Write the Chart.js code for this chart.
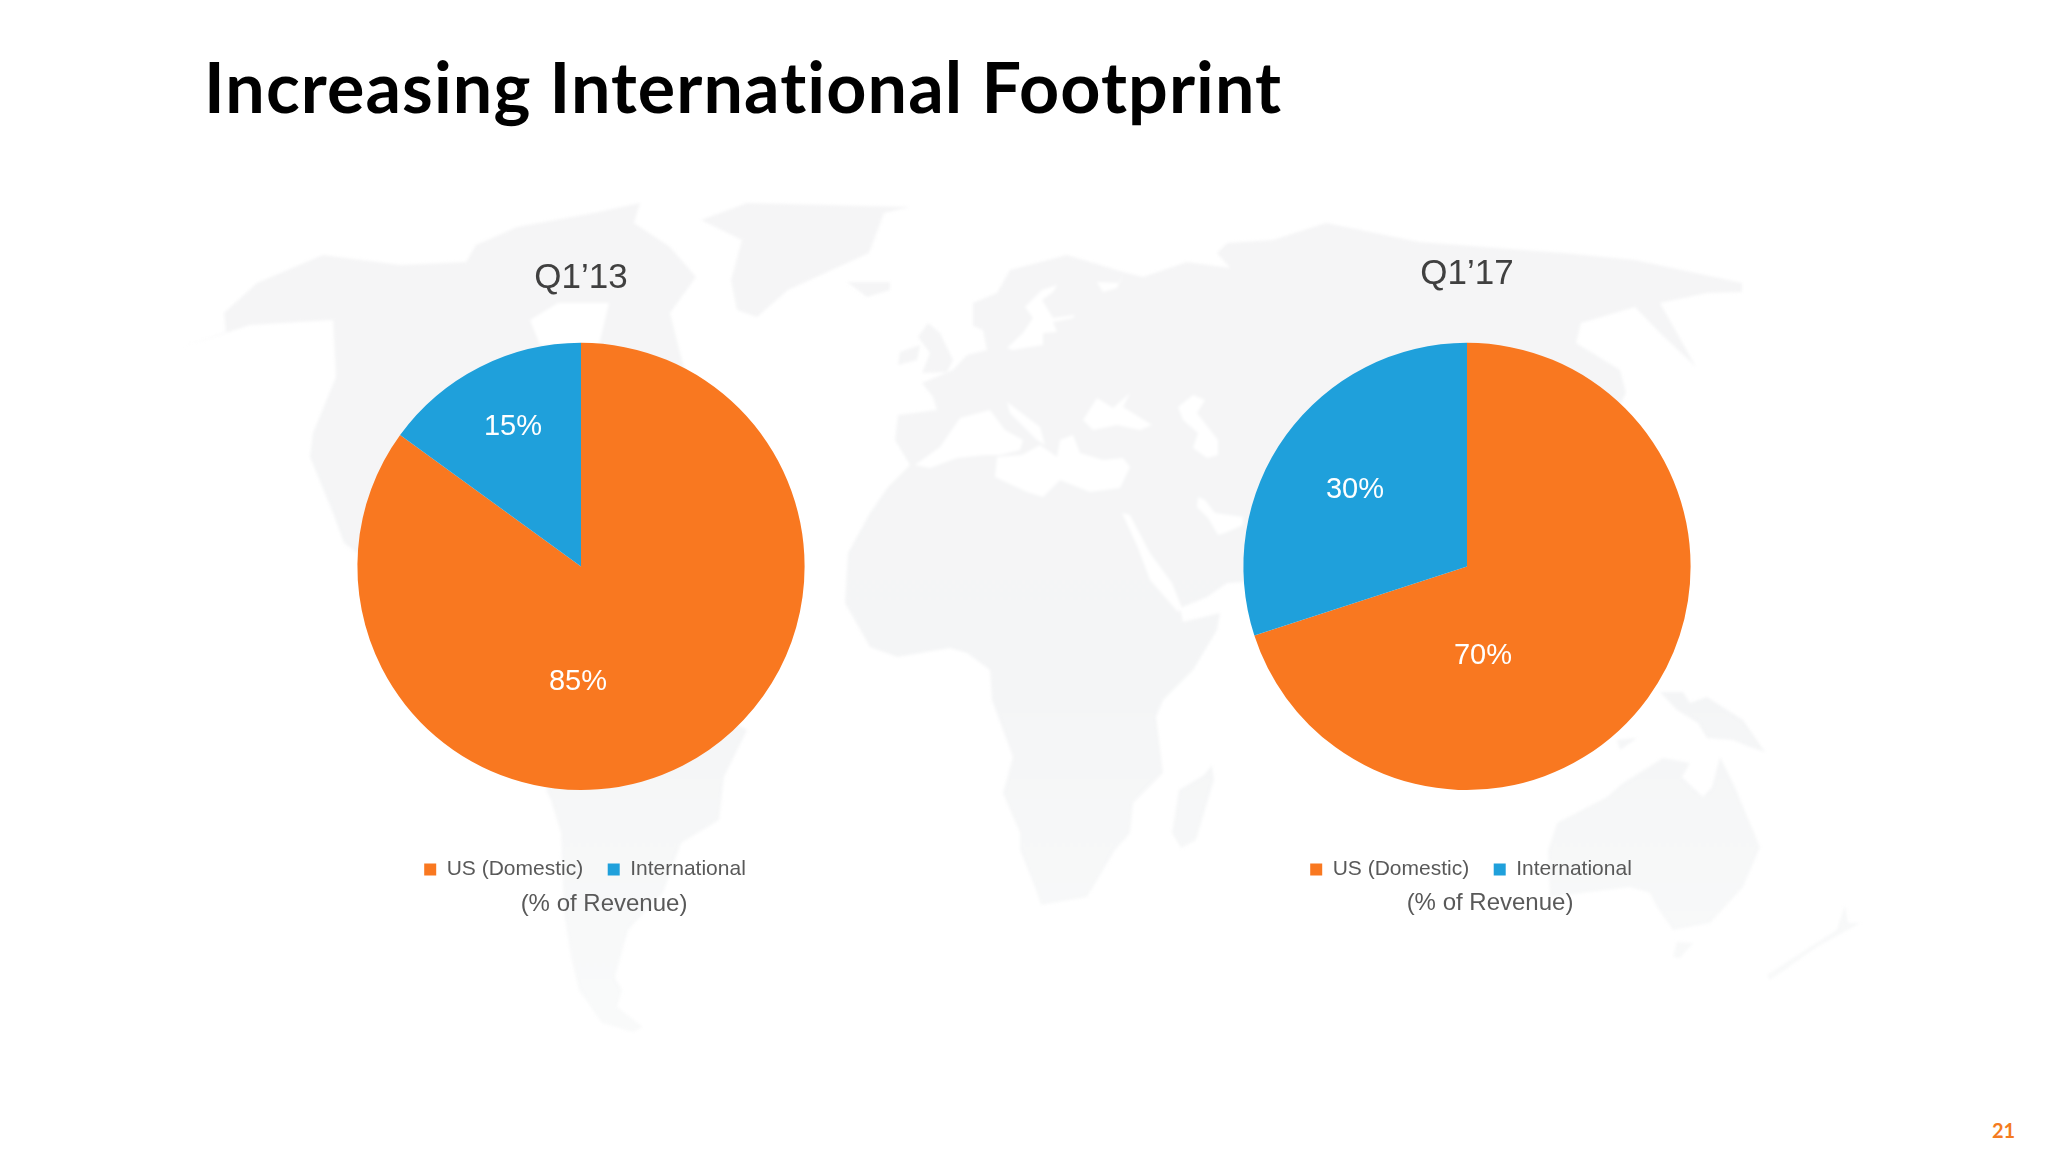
<!DOCTYPE html>
<html>
<head>
<meta charset="utf-8">
<title>Increasing International Footprint</title>
<script src="https://cdn.jsdelivr.net/npm/chart.js@4"></script>
<style>
    html, body { margin: 0; padding: 0; background: #fff; }
    body { position: relative; width: 2048px; height: 1152px; overflow: hidden; }
    #map { position: absolute; left: 0; top: 0; filter: blur(1.5px); }
    #heading { position: absolute; left: 204px; top: 44px; font: 700 70px Lato, sans-serif; letter-spacing: 1.1px; color: #000; white-space: nowrap; }
    #pageNo { position: absolute; left: 1992px; top: 1118px; font: 700 20px Lato, sans-serif; color: #f47b20; }
    canvas { position: absolute; }
    #chartQ113 { left: 231px; top: 200px; }
    #chartQ117 { left: 1117px; top: 200px; }
</style>
</head>
<body>
<!-- faint world map behind the pies -->
<svg id="map" width="2048" height="1152" viewBox="0 0 2048 1152">
    <defs>
        <linearGradient id="land" gradientUnits="userSpaceOnUse" x1="0" y1="200" x2="0" y2="1030">
            <stop offset="0" stop-color="#f5f5f6"/>
            <stop offset="0.6" stop-color="#f4f5f6"/>
            <stop offset="1" stop-color="#f9fafa"/>
        </linearGradient>
    </defs>
    <g fill="url(#land)">
        <!-- North and Central America -->
        <polygon points="180,348 226,332 224,313 257,283 323,255 400,265 466,262 476,245 517,227 594,213 640,203 634,223 670,247 696,277 670,313 680,353 700,420 640,560 620,660 560,700 500,640 420,600 344,543 333,513 310,457 313,433 336,377 333,320 250,325"/>
        <!-- South America -->
        <polygon points="600,650 747,730 724,777 719,820 681,843 663,893 628,930 615,977 622,990 617,1007 643,1027 633,1032 602,1023 579,990 571,957 564,913 561,833 551,800 546,790"/>
        <!-- Greenland and Iceland -->
        <polygon points="701,220 747,203 910,207 884,213 869,253 788,290 757,317 737,310 731,280 742,240"/>
        <polygon points="847,282 890,282 890,290 867,297"/>
        <!-- Africa and Eurasia -->
        <polygon points="910,465 895,440 898,415 937,410 933,397 922,383 953,370 967,355 987,350 983,330 973,326 973,303 997,293 1010,270 1067,255 1123,272 1143,277 1187,262 1230,268 1217,253 1227,243 1273,240 1326,223 1419,242 1563,253 1635,260 1742,283 1742,292 1707,293 1660,303 1696,367 1660,333 1635,307 1581,323 1576,343 1620,370 1626,393 1560,520 1400,620 1243,582 1227,583 1207,597 1180,608 1183,622 1220,613 1217,630 1193,670 1163,700 1156,717 1163,773 1133,803 1130,833 1115,850 1087,897 1041,905 1036,890 1020,850 1020,833 1003,793 1013,757 992,700 990,670 967,653 950,648 897,657 870,647 845,603 848,553 870,513 888,487 908,467"/>
        <!-- Islands -->
        <polygon points="918,337 928,323 940,333 953,360 947,372 922,373 930,353"/>
        <polygon points="900,352 920,345 917,360 898,365"/>
        <polygon points="1212,765 1214,780 1196,840 1181,848 1172,833 1179,790 1204,775"/>
        <!-- Oceania -->
        <polygon points="1720,757 1733,783 1760,847 1743,887 1710,923 1673,930 1657,907 1650,893 1630,887 1550,897 1548,850 1557,823 1607,797 1623,783 1663,758 1690,763 1682,777 1703,797 1712,787"/>
        <polygon points="1677,942 1693,943 1680,958 1673,957"/>
        <polygon points="1660,692 1683,692 1690,703 1707,697 1743,720 1765,752 1750,747 1733,740 1707,738 1698,723 1677,710"/>
        <polygon points="1617,740 1637,738 1620,750"/>
        <polygon points="1845,905 1848,923 1860,923 1817,947 1770,980 1767,975 1810,947 1837,930"/>
    </g>
    <g fill="#fff">
        <!-- Hudson Bay -->
        <polygon points="530,320 558,303 609,303 599,345 540,345"/>
        <!-- Mediterranean -->
        <polygon points="915,465 940,447 960,418 990,410 1005,430 1023,440 1020,450 1000,455 985,455 957,458 930,468"/>
        <polygon points="997,457 995,477 1027,492 1043,497 1060,480 1090,492 1120,488 1130,467 1123,458 1103,460 1080,453 1073,435 1060,440 1057,457 1040,445 1022,455"/>
        <polygon points="1007,402 1040,427 1045,445 1037,440 1010,413"/>
        <!-- Black Sea, Caspian, Baltic, White Sea -->
        <polygon points="1083,420 1097,398 1113,408 1130,393 1123,407 1152,425 1140,430 1117,425 1093,430"/>
        <polygon points="1178,407 1193,395 1205,400 1197,413 1218,440 1218,455 1207,458 1193,448 1198,433 1183,420"/>
        <polygon points="1007,348 1023,333 1033,318 1025,307 1042,290 1057,285 1053,292 1042,300 1053,318 1075,315 1073,318 1053,322 1057,332 1043,333 1043,345 1030,347 1013,350"/>
        <polygon points="1097,282 1120,283 1123,273 1117,288 1103,292"/>
        <!-- Red Sea and Persian Gulf -->
        <polygon points="1122,513 1130,515 1150,553 1172,583 1182,608 1178,612 1150,580 1138,548"/>
        <polygon points="1198,497 1205,500 1215,513 1243,517 1243,525 1225,533 1218,535 1208,518 1197,507"/>
    </g>
</svg>
<div id="heading">Increasing International Footprint</div>
<canvas id="chartQ113" width="700" height="740"></canvas>
<canvas id="chartQ117" width="700" height="740"></canvas>
<div id="pageNo">21</div>
<script>
Chart.defaults.font.family = '"Liberation Sans", Arial, sans-serif';
Chart.defaults.animation = false;

const categories = ['US (Domestic)', 'International'];
const sharesQ113 = [85, 15];
const sharesQ117 = [70, 30];
const sliceColors = ['#f97820', '#1fa0db'];
const unitNote = '(% of Revenue)';

// nudges the legend off its centred slot and writes the % labels and the unit note
const slideText = {
    id: 'slideText',
    afterLayout(chart) {
        const opts = chart.options.plugins.slideText;
        const legend = chart.legend;
        legend.left += opts.legendShift[0];
        legend.right += opts.legendShift[0];
        legend.top += opts.legendShift[1];
        legend.bottom += opts.legendShift[1];
    },
    afterDatasetsDraw(chart) {
        const opts = chart.options.plugins.slideText;
        const ctx = chart.ctx;
        const arcs = chart.getDatasetMeta(0).data;
        const values = chart.data.datasets[0].data;
        ctx.save();
        ctx.textAlign = 'center';
        ctx.textBaseline = 'middle';
        ctx.fillStyle = '#fff';
        ctx.font = '29px "Liberation Sans"';
        arcs.forEach((arc, i) => {
            ctx.fillText(values[i] + '%', arc.x + opts.labelOffsets[i][0], arc.y + opts.labelOffsets[i][1]);
        });
        ctx.fillStyle = '#595959';
        ctx.font = '24px "Liberation Sans"';
        ctx.fillText(unitNote, arcs[0].x + opts.noteOffset[0], arcs[0].y + opts.noteOffset[1]);
        ctx.restore();
    }
};

function makePie(canvasId, period, shares, titlePadding, labelOffsets, noteOffset) {
    return new Chart(document.getElementById(canvasId), {
        type: 'pie',
        data: {
            labels: categories,
            datasets: [{
                data: shares,
                backgroundColor: sliceColors,
                borderWidth: 0
            }]
        },
        options: {
            responsive: false,
            layout: { padding: { left: 126.4, right: 126.4, top: 0, bottom: 94 } },
            plugins: {
                tooltip: { enabled: false },
                title: {
                    display: true,
                    text: period,
                    color: '#404040',
                    font: { size: 35, weight: 'normal', lineHeight: 1.2 },
                    padding: titlePadding
                },
                legend: {
                    position: 'bottom',
                    labels: {
                        color: '#595959',
                        font: { size: 21 },
                        boxWidth: 12,
                        boxHeight: 12,
                        padding: 24.5
                    }
                },
                slideText: { legendShift: [4, 44], labelOffsets: labelOffsets, noteOffset: noteOffset }
            }
        },
        plugins: [slideText]
    });
}

makePie('chartQ113', 'Q1\u201913', sharesQ113, { top: 57, bottom: 43.4 }, [[-3, 116], [-68, -139.5]], [23, 338]);
makePie('chartQ117', 'Q1\u201917', sharesQ117, { top: 53.5, bottom: 46.9 }, [[16, 90], [-112, -76]], [23, 337]);
</script>
</body>
</html>
